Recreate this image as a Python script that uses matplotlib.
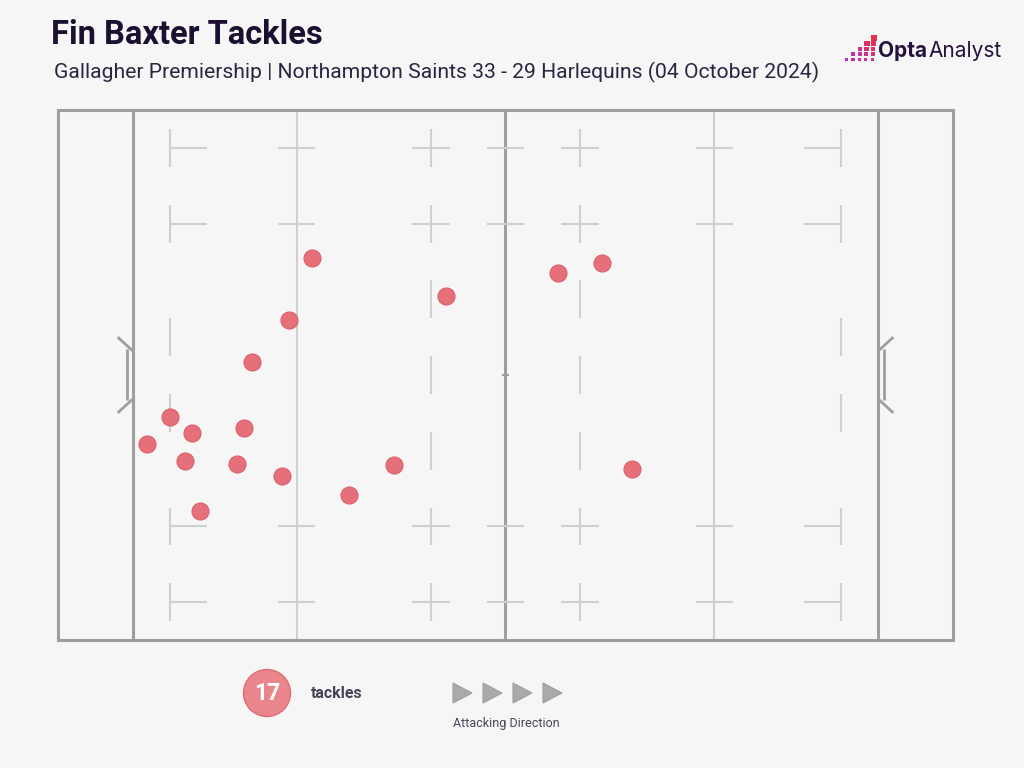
import numpy as np
import matplotlib.pyplot as plt
from matplotlib.patches import Circle, Rectangle, Polygon
from matplotlib import font_manager

# tackle locations, metres from own try line (x) and from bottom touchline (y)
tackle_x = [24.0, 21.0, 16.0, 5.0, 8.0, 15.0, 2.0, 7.0, 14.0, 20.0, 9.0,
            42.0, 57.0, 63.0, 35.0, 67.0, 29.0]
tackle_y = [50.5, 42.3, 36.7, 29.5, 27.4, 28.0, 25.9, 23.7, 23.2, 21.6, 17.1,
            45.4, 48.5, 49.8, 23.1, 22.6, 19.1]

title = "Fin Baxter Tackles"
subtitle = "Gallagher Premiership | Northampton Saints 33 - 29 Harlequins (04 October 2024)"

BG = '#f6f6f6'
DARK = '#9e9e9e'
LIGHT = '#cfcfcf'
DOT = '#e5707a'

names = {f.name for f in font_manager.fontManager.ttflist}
cond = 'Liberation Sans Narrow' if 'Liberation Sans Narrow' in names else 'Roboto'

fig = plt.figure(figsize=(10.24, 7.68), dpi=100, facecolor=BG)

# pitch axes: exactly the dead-ball area
ax = fig.add_axes([58 / 1024, 1 - 640 / 768, (953 - 58) / 1024, (640 - 110) / 768])
ax.set_xlim(-10, 110)
ax.set_ylim(0, 70)
ax.axis('off')
ax.set_facecolor(BG)

def ln(xs, ys, c=LIGHT, lw=1.5):
    ax.plot(xs, ys, color=c, lw=lw, clip_on=False, solid_capstyle='butt', zorder=1)

# outline, try lines, halfway
ax.add_patch(Rectangle((-10, 0), 120, 70, fill=False, ec=DARK, lw=2.2, clip_on=False, zorder=2))
for x in [0, 50, 100]:
    ln([x, x], [0, 70], DARK, 2.2)
# 22m lines
for x in [22, 78]:
    ln([x, x], [0, 70])
    for y in [5, 15, 55, 65]:
        ln([x - 2.5, x + 2.5], [y, y])
# halfway crosses + centre mark
for y in [5, 15, 55, 65]:
    ln([47.5, 52.5], [y, y])
ln([49.5, 50.5], [35, 35], DARK, 1.5)
# 10m dashed lines
for x in [40, 60]:
    for y0 in np.arange(2.5, 70, 10):
        ln([x, x], [y0, y0 + 5])
    for y in [5, 15, 55, 65]:
        ln([x - 2.5, x + 2.5], [y, y])
# 5m lines
for x, d in [(5, 1), (95, -1)]:
    for y in [5, 15, 55, 65]:
        ln([x, x], [y - 2.5, y + 2.5])
        ln([x, x + 5 * d], [y, y])
    for y0 in [27.5, 37.5]:
        ln([x, x], [y0, y0 + 5])
# goal posts
for x, d in [(0, -1), (100, 1)]:
    ln([x + 0.7 * d, x + 0.7 * d], [31.7, 38.4], DARK, 2.0)
    ln([x, x + 2.0 * d], [38.2, 40.0], DARK, 2.0)
    ln([x, x + 2.0 * d], [31.8, 30.0], DARK, 2.0)

ax.scatter(tackle_x, tackle_y, s=150, color=DOT, ec='#dc5f6a', lw=0.8, zorder=5)

# overlay in pixel coords for header and legend
ov = fig.add_axes([0, 0, 1, 1])
ov.set_xlim(0, 1024)
ov.set_ylim(768, 0)
ov.axis('off')
ov.patch.set_alpha(0)

ov.text(51, 35, title, fontsize=23.5, fontweight='bold', family=cond, color='#1c1030', va='center')
ov.text(54, 72, subtitle, fontsize=15.2, family=cond, color='#2b2540', va='center')

# logo
c1 = np.array([0.91, 0.19, 0.29])
c2 = np.array([0.72, 0.18, 0.80])
for r in range(5):
    for c in range(5):
        if c >= 4 - r:
            t = (r + (4 - c)) / 8
            sz = 6 - 0.7 * r
            ov.add_patch(Rectangle((845 + c * 6.4, 35 + r * 5.8), sz, sz,
                                   color=c1 * (1 - t) + c2 * t, lw=0))
ov.text(878, 51, "Opta", fontsize=15, fontweight='bold', family='Inter', color='#24123a', va='center')
ov.text(928, 51, "Analyst", fontsize=15, family='Inter', color='#24123a', va='center')

# legend
ov.add_patch(Circle((267, 693), 23.5, fc='#e8868c', ec='#e06c75', lw=1))
ov.text(267, 693, str(len(tackle_x)), fontsize=16.5, fontweight='bold', color='white',
        ha='center', va='center', family='Roboto')
ov.text(311, 693, "tackles", fontsize=11.5, fontweight='bold', color='#4a4458',
        va='center', family='Roboto')
for xa in [462, 492, 522, 552]:
    ov.add_patch(Polygon([[xa - 9, 683], [xa - 9, 703], [xa + 10, 693]],
                         closed=True, fc='#aaaaaa', ec='#9e9e9e', lw=0.8))
ov.text(506, 724, "Attacking Direction", fontsize=9, color='#4a4458',
        ha='center', va='center', family=cond)

fig.savefig('out.png', dpi=100, facecolor=BG)
